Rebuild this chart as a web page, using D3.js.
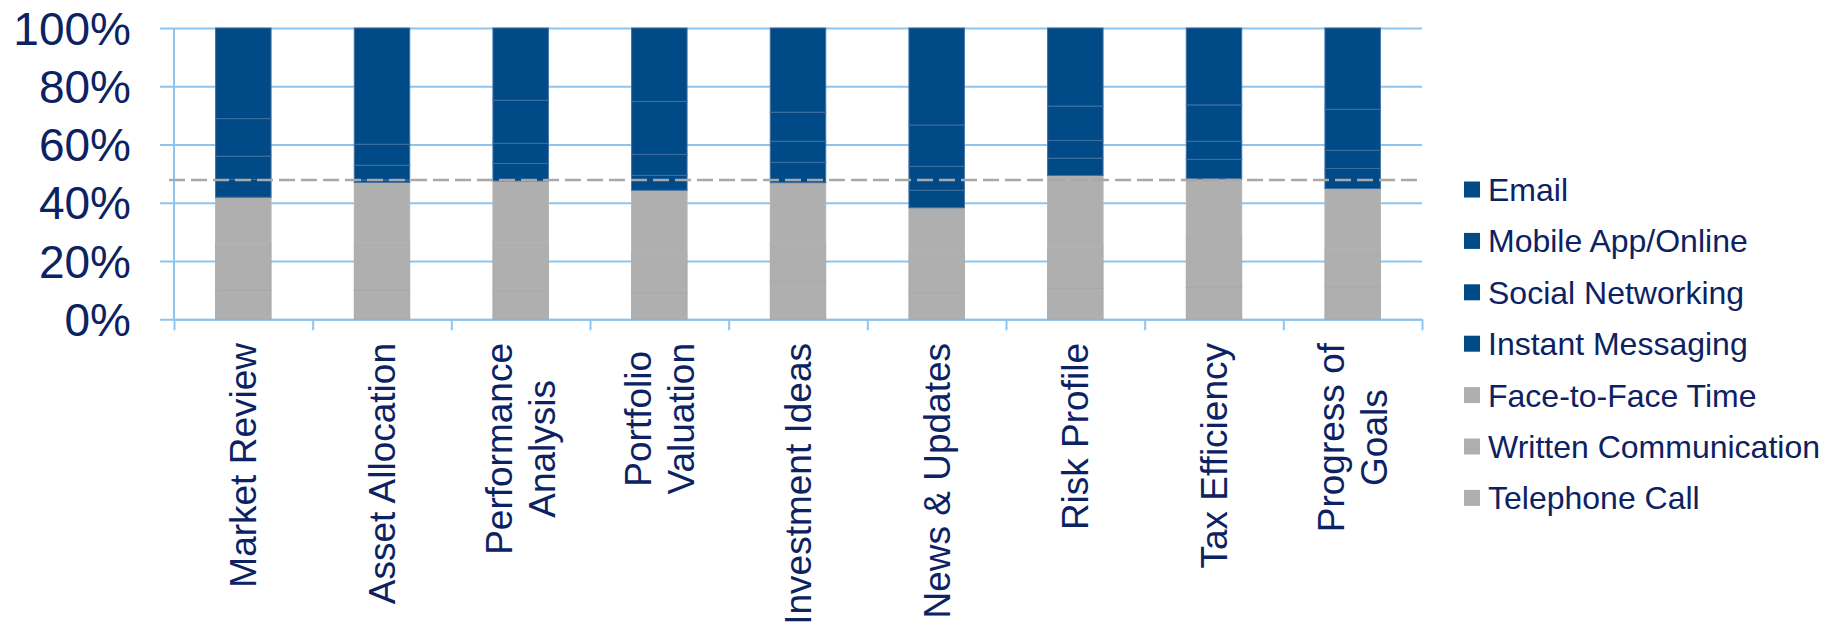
<!DOCTYPE html>
<html>
<head>
<meta charset="utf-8">
<script src="https://cdn.jsdelivr.net/npm/d3@7"></script>
<style>
  html, body { margin: 0; padding: 0; background: #ffffff; }
  svg { display: block; }
  text { font-family: "Liberation Sans", Arial, sans-serif; fill: #0c2262; }
</style>
</head>
<body>
<svg id="chart" width="1839" height="626"></svg>
<script>
// ---- data ----
const categories = [
  ["Market Review"],
  ["Asset Allocation"],
  ["Performance", "Analysis"],
  ["Portfolio", "Valuation"],
  ["Investment Ideas"],
  ["News & Updates"],
  ["Risk Profile"],
  ["Tax Efficiency"],
  ["Progress of", "Goals"]
];
const telephoneCall        = [10.0, 10.0,  9.7,  9.0, 13.0,  9.0, 10.6, 11.0, 11.0];
const writtenCommunication = [16.1, 16.3, 16.7, 14.0, 12.9, 14.0, 14.3, 17.6, 13.1];
const faceToFaceTime       = [15.8, 20.7, 21.1, 21.3, 21.0, 15.3, 24.5, 19.6, 20.8];
const instantMessaging     = [ 6.1,  0.8,  6.0,  5.1,  7.0,  6.0,  5.9,  6.7,  6.9];
const socialNetworking     = [ 8.0,  5.1,  6.9,  7.2,  7.2,  8.2,  6.1,  6.2,  6.2];
const mobileAppOnline      = [12.9,  7.2, 14.8, 18.2, 10.0, 14.2, 11.8, 12.5, 14.1];
const email                = [31.1, 39.9, 24.8, 25.2, 28.9, 33.3, 26.8, 26.4, 27.9];
const referenceLine = 47.8;
const yTicks = [0, 20, 40, 60, 80, 100];

// series in stacking order (bottom -> top)
const seriesNames = ["Telephone Call", "Written Communication", "Face-to-Face Time",
                     "Instant Messaging", "Social Networking", "Mobile App/Online", "Email"];
const seriesValues = [telephoneCall, writtenCommunication, faceToFaceTime,
                      instantMessaging, socialNetworking, mobileAppOnline, email];
const legendOrder = ["Email", "Mobile App/Online", "Social Networking", "Instant Messaging",
                     "Face-to-Face Time", "Written Communication", "Telephone Call"];

(function () {
// ---- styles ----
const BLUE = "#004a88", GREY = "#afafaf";
const fillOf = n => (["Telephone Call", "Written Communication", "Face-to-Face Time"].includes(n) ? GREY : BLUE);
const strokeOf = n => n === "Face-to-Face Time" ? "#b4b6ac" : (fillOf(n) === GREY ? "#a9a9a9" : "#3f6f9f");
const GRID = "#8ec5f0";

const svg = d3.select("#chart");
const pLeft = 174, pRight = 1422, pTop = 28, pBottom = 319.3;

const rows = categories.map((c, i) => {
  const o = { key: i };
  seriesNames.forEach((n, j) => o[n] = seriesValues[j][i]);
  return o;
});

const x = d3.scaleBand().domain(d3.range(categories.length)).range([pLeft, pRight])
  .paddingInner(0.6).paddingOuter(0.3);
const y = d3.scaleLinear().domain([0, 100]).range([pBottom, pTop]);
const xb = d3.scaleLinear().domain([0, categories.length]).range([pLeft, pRight]);

// gridlines + y labels
const yAxis = d3.axisLeft(y).tickValues(yTicks).tickFormat(d => d + "%")
  .tickSizeInner(-(pRight - 160)).tickSizeOuter(0).tickPadding(29);
const gy = svg.append("g").attr("transform", `translate(160,0)`).call(yAxis);
gy.select(".domain").remove();
gy.selectAll(".tick line").attr("stroke", GRID).attr("stroke-width", 2);
gy.selectAll(".tick text").attr("font-size", 46).attr("fill", "#0c2262")
  .attr("font-family", "'Liberation Sans', Arial, sans-serif").attr("dy", "0.35em");

// left axis line
svg.append("line").attr("x1", pLeft).attr("x2", pLeft).attr("y1", y(0)).attr("y2", y(100))
  .attr("stroke", GRID).attr("stroke-width", 2);

// bottom axis with boundary ticks
const xAxis = d3.axisBottom(xb).tickValues(d3.range(categories.length + 1)).tickFormat("")
  .tickSizeInner(11).tickSizeOuter(0);
const gx = svg.append("g").attr("transform", `translate(0,${y(0)})`).call(xAxis);
gx.select(".domain").attr("stroke", GRID).attr("stroke-width", 2);
gx.selectAll(".tick line").attr("stroke", GRID).attr("stroke-width", 2);

// stacked bars
const stack = d3.stack().keys(seriesNames)(rows);
svg.append("g").selectAll("g").data(stack).join("g")
  .attr("fill", d => fillOf(d.key)).attr("stroke", d => strokeOf(d.key)).attr("stroke-width", 1)
  .selectAll("rect").data(d => d).join("rect")
  .attr("x", d => x(d.data.key))
  .attr("width", x.bandwidth())
  .attr("y", d => y(d[1]))
  .attr("height", d => y(d[0]) - y(d[1]));

// dashed reference line
svg.append("line").attr("x1", 169).attr("x2", 1417)
  .attr("y1", y(referenceLine)).attr("y2", y(referenceLine))
  .attr("stroke", "#a8a8a8").attr("stroke-width", 2.4).attr("stroke-dasharray", "16,6");

// category labels (rotated)
const labelFont = 37, lineH = 43, labelTop = 343;
const lg = svg.append("g");
categories.forEach((lines, i) => {
  const cx = x(i) + x.bandwidth() / 2;
  const t = lg.append("text").attr("font-size", labelFont).attr("text-anchor", "middle");
  const tsp = lines.map((ln) => t.append("tspan").text(ln));
  const lmax = d3.max(tsp.map(s => s.node().getComputedTextLength()));
  const u = -(labelTop + lmax / 2);
  tsp.forEach((s, k) => {
    const v = (k - (lines.length - 1) / 2) * lineH + 0.35 * labelFont;
    s.attr("x", u).attr("y", v);
  });
  t.attr("transform", `translate(${cx},0) rotate(-90)`);
});

// legend
const leg = svg.append("g");
legendOrder.forEach((n, i) => {
  const cy = 189.5 + i * 51.4;
  leg.append("rect").attr("x", 1464).attr("y", cy - 8).attr("width", 16).attr("height", 16)
    .attr("fill", fillOf(n));
  leg.append("text").attr("x", 1488).attr("y", cy).attr("dy", "0.36em")
    .attr("font-size", 32).text(n);
});
})();
</script>
</body>
</html>
